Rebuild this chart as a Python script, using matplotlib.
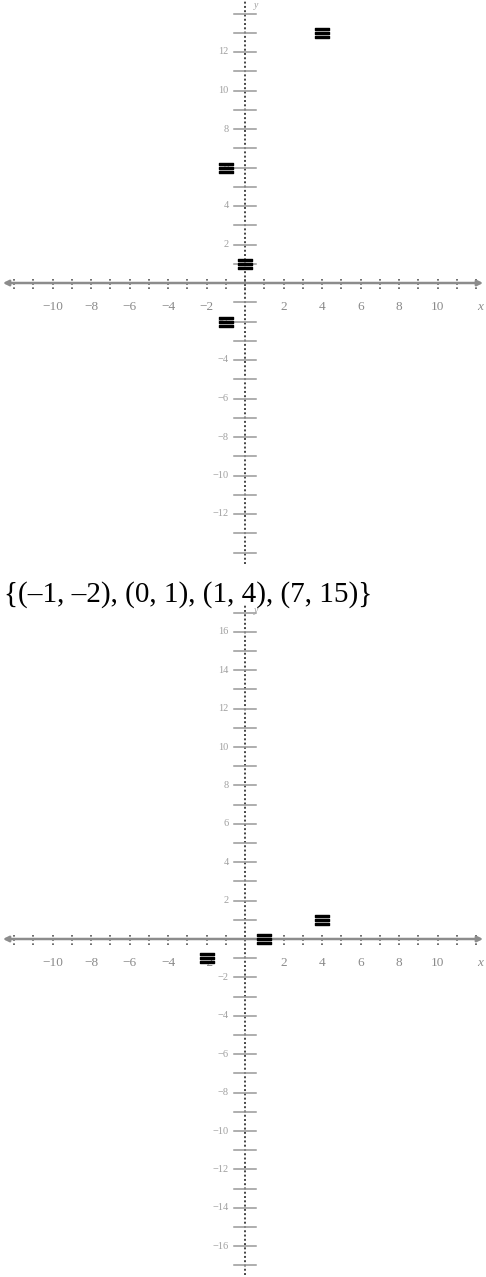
import matplotlib
matplotlib.use("Agg")
import matplotlib.pyplot as plt
import numpy as np

# points on the upper grid
top_x = [-1, 0, -1, 4]
top_y = [-2, 1, 6, 13]

# the relation written between the grids, and its inverse on the lower grid
rel_x = [-1, 0, 1, 7]
rel_y = [-2, 1, 4, 15]
inv_x = rel_y
inv_y = rel_x

top_yticks = [-12, -10, -8, -6, -4, -2, 2, 4, 6, 8, 10, 12]
top_xticks = [-10, -8, -6, -4, -2, 2, 4, 6, 8, 10]
bot_yticks = [-16, -14, -12, -10, -8, -6, -4, -2, 2, 4, 6, 8, 10, 12, 14, 16]
bot_xticks = [-10, -8, -6, -4, -2, 2, 4, 6, 8, 10]

W, H = 486, 1277
fig = plt.figure(figsize=(W / 100, H / 100), dpi=100)

axis_col = "#8c8c8c"
lab_col = "#8a8a8a"


def grid_axes(top_px, bot_px, xlim, ylim, xticks, yticks, px, py, ymin_arrow, ymax_arrow):
    ax = fig.add_axes([0, 1 - bot_px / H, 1, (bot_px - top_px) / H])
    ax.set_xlim(*xlim)
    ax.set_ylim(*ylim)
    ax.axis("off")
    # axes with arrow heads at both ends
    ax.annotate("", xy=(xlim[0] + 0.15, 0), xytext=(xlim[1] - 0.15, 0),
                arrowprops=dict(arrowstyle="<|-|>", color=axis_col, lw=1.8,
                                mutation_scale=8, shrinkA=0, shrinkB=0))
    ax.plot([0, 0], [ymin_arrow, ymax_arrow], color="#444444", lw=1.4,
            ls=(0, (1, 1.2)))
    # integer tick marks
    for v in range(int(np.ceil(xlim[0] + 0.4)), int(xlim[1]) + 1):
        ax.plot([v, v], [-0.3, 0.3], color="#555555", lw=1.2, ls=(0, (1, 1.5)))
    for v in range(int(np.ceil(ymin_arrow)), int(ymax_arrow) + 1):
        ax.plot([-0.55, 0.55], [v, v], color="#999999", lw=1.1)
    for v in xticks:
        lab = str(v).replace("-", "\u2212")
        ax.text(v, -1.25, lab, ha="center", va="center", fontsize=9.5,
                family="Liberation Serif", color=lab_col)
    ax.text(12.2, -1.25, "x", ha="center", va="center", fontsize=9.5,
            family="Liberation Serif", style="italic", color=lab_col)
    for v in yticks:
        lab = str(v).replace("-", "\u2212")
        ax.text(-0.85, v, lab, ha="right", va="center", fontsize=7.5,
                family="Liberation Serif", color="#a0a0a0")
    ax.text(0.45, ymax_arrow - 0.3, "y", ha="left", va="center", fontsize=7,
            family="Liberation Serif", style="italic", color="#a0a0a0")
    ax.scatter(px, py, marker="$\\equiv$", s=95, color="black", zorder=5,
               clip_on=True)
    return ax


xl = (-245 / 19.25, (W - 245) / 19.25)

grid_axes(0, 570, xl, (-(570 - 283) / 19.25, 283 / 19.25),
          top_xticks, top_yticks, top_x, top_y, -14.6, 14.7)

grid_axes(600, H, xl, (-(H - 939) / 19.2, (939 - 600) / 19.2),
          bot_xticks, bot_yticks, inv_x, inv_y, -17.5, 17.4)

fig.text(0.008, 1 - 595 / H, "{(\u20131, \u20132), (0, 1), (1, 4), (7, 15)}",
         fontsize=21, family="Liberation Serif", va="center", ha="left")

fig.savefig("out.png", dpi=100, facecolor="white")
